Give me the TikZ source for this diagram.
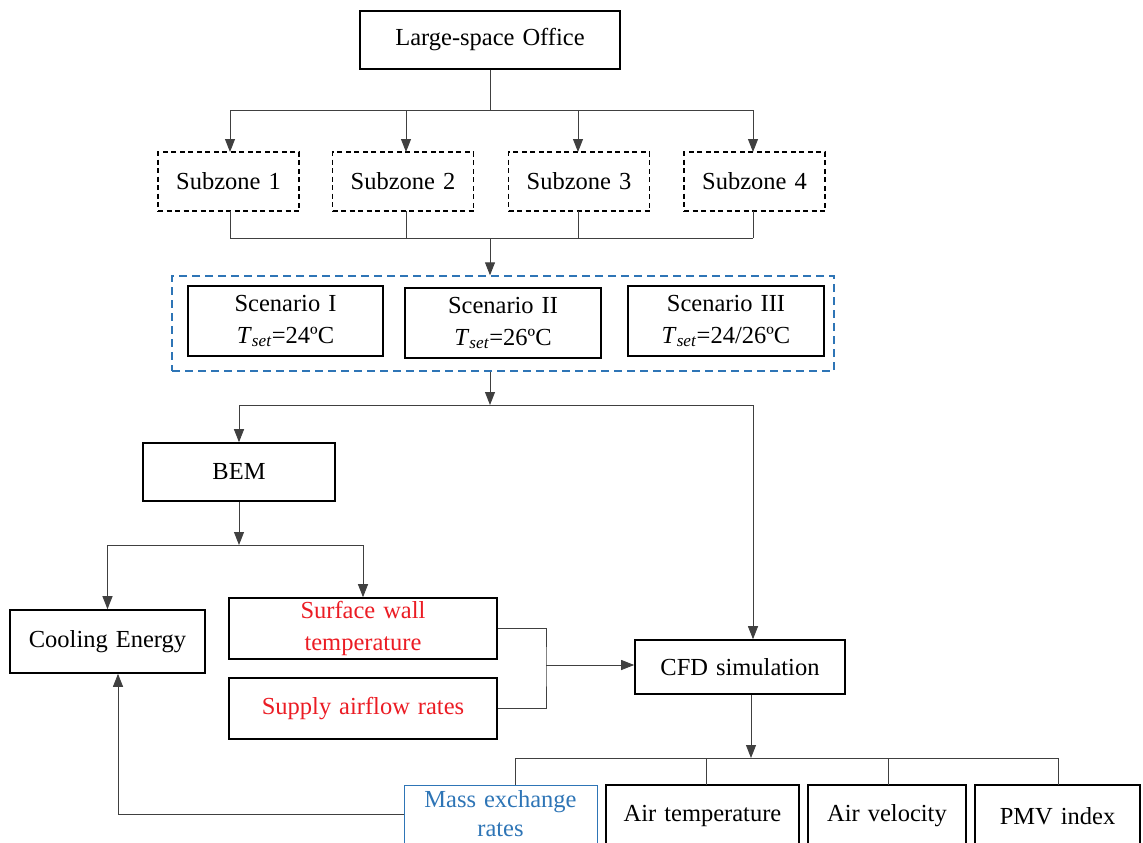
\documentclass[tikz,border=0pt]{standalone}
\usepackage{fontspec}
\setmainfont[WordSpace=1.3]{Liberation Serif}
\usetikzlibrary{arrows.meta, positioning, calc}

\definecolor{outred}{RGB}{235,28,36}
\definecolor{outblue}{RGB}{46,117,182}

\begin{document}
\begin{tikzpicture}[
        x=1pt, y=-1pt,
        font=\fontsize{24.5}{32}\selectfont,
        box/.style={rectangle, draw=black, line width=1.6pt, inner sep=0pt, align=center},
        zone/.style={box, dashed, dash pattern=on 5pt off 3.5pt},
        line/.style={draw=black!75, line width=0.9pt},
        arrow/.style={line, -{Triangle[length=13pt, width=10pt]}}
    ]
        \useasboundingbox (0,0) rectangle (1143,843);
        \clip (0,0) rectangle (1143,843);

        % top of the tree
        \node[box, minimum width=260, minimum height=58] (office) at (490,40) {Large-space Office};
        \foreach \i/\x in {1/228.5, 2/403, 3/579, 4/754.5}
            \node[zone, minimum width=141, minimum height=59] (sz\i) at (\x,181.5) {Subzone \i};

        % scenarios
        \node[rectangle, draw=outblue, line width=1.4pt, dash pattern=on 8pt off 5pt,
              minimum width=662, minimum height=95] (scbox) at (503,323.5) {};
        \node[box, minimum width=195, minimum height=70] (sc1) at (285.5,321)
            {Scenario I\\\textit{T}\textsubscript{\textit{set}}=24ºC};
        \node[box, minimum width=196, minimum height=70] (sc2) at (503,323)
            {Scenario II\\\textit{T}\textsubscript{\textit{set}}=26ºC};
        \node[box, minimum width=196, minimum height=70] (sc3) at (726,321)
            {Scenario III\\\textit{T}\textsubscript{\textit{set}}=24/26ºC};

        % models and outputs
        \node[box, minimum width=192, minimum height=58] (bem) at (239,472) {BEM};
        \node[box, minimum width=195, minimum height=63] (cool) at (107.5,641.5) {Cooling Energy};
        \node[box, minimum width=268, minimum height=61, text=outred] (wall) at (363,628.5)
            {Surface wall\\temperature};
        \node[box, minimum width=268, minimum height=61, text=outred] (supply) at (363,708.5)
            {Supply airflow rates};
        \node[box, minimum width=210, minimum height=54] (cfd) at (740,667) {CFD simulation};

        \node[box, draw=outblue, line width=1pt, text=outblue, minimum width=193, minimum height=58,
              font=\fontsize{24.5}{29}\selectfont] (mass) at (500.5,814)
            {Mass exchange\\rates};
        \node[box, minimum width=193, minimum height=62] (airt) at (702.5,816) {Air temperature};
        \node[box, minimum width=158, minimum height=62] (airv) at (887,816) {Air velocity};
        \node[box, minimum width=165, minimum height=62] (pmv) at (1057.5,816) {PMV index};

        % connectors
        \coordinate (top) at (490,110);
        \draw[line] (office.south) -- (top);
        \draw[line] (230,110) -- (753,110);
        \foreach \i/\x in {1/230, 2/406, 3/578, 4/753}
            \draw[arrow] (\x,110) -- (\x,152);

        \coordinate (mid) at (490,238);
        \foreach \i/\x in {1/230, 2/406, 3/578, 4/753}
            \draw[line] (\x,211) -- (\x,238);
        \draw[line] (230,238) -- (753,238);
        \draw[arrow] (mid) -- (mid |- scbox.north);

        \coordinate (split) at (490,405);
        \draw[arrow] (scbox.south -| split) -- (split);
        \draw[line] (bem.north |- split) -- (753,405) coordinate (cfdin);
        \draw[arrow] (bem.north |- split) -- (bem.north);
        \draw[arrow] (cfdin) -- (cfdin |- cfd.north);

        \coordinate (bemout) at (239,545);
        \draw[arrow] (bem.south) -- (bemout);
        \draw[line] (cool.north |- bemout) -- (wall.north |- bemout);
        \draw[arrow] (cool.north |- bemout) -- (cool.north);
        \draw[arrow] (wall.north |- bemout) -- (wall.north);

        \coordinate (join) at (546,665);
        \draw[line] (wall.east) -| (join) |- (supply.east);
        \draw[arrow] (join) -- (join -| cfd.west);

        \coordinate (res) at (751,758);
        \draw[arrow] (cfd.south -| res) -- (res);
        \draw[line] (515,758) -- (1058,758);
        \foreach \x in {515, 706, 888, 1058}
            \draw[line] (\x,758) -- (\x,785);

        \coordinate (back) at (118,814);
        \draw[arrow] (mass.west) -- (back) -- (back |- cool.south);
\end{tikzpicture}
\end{document}
